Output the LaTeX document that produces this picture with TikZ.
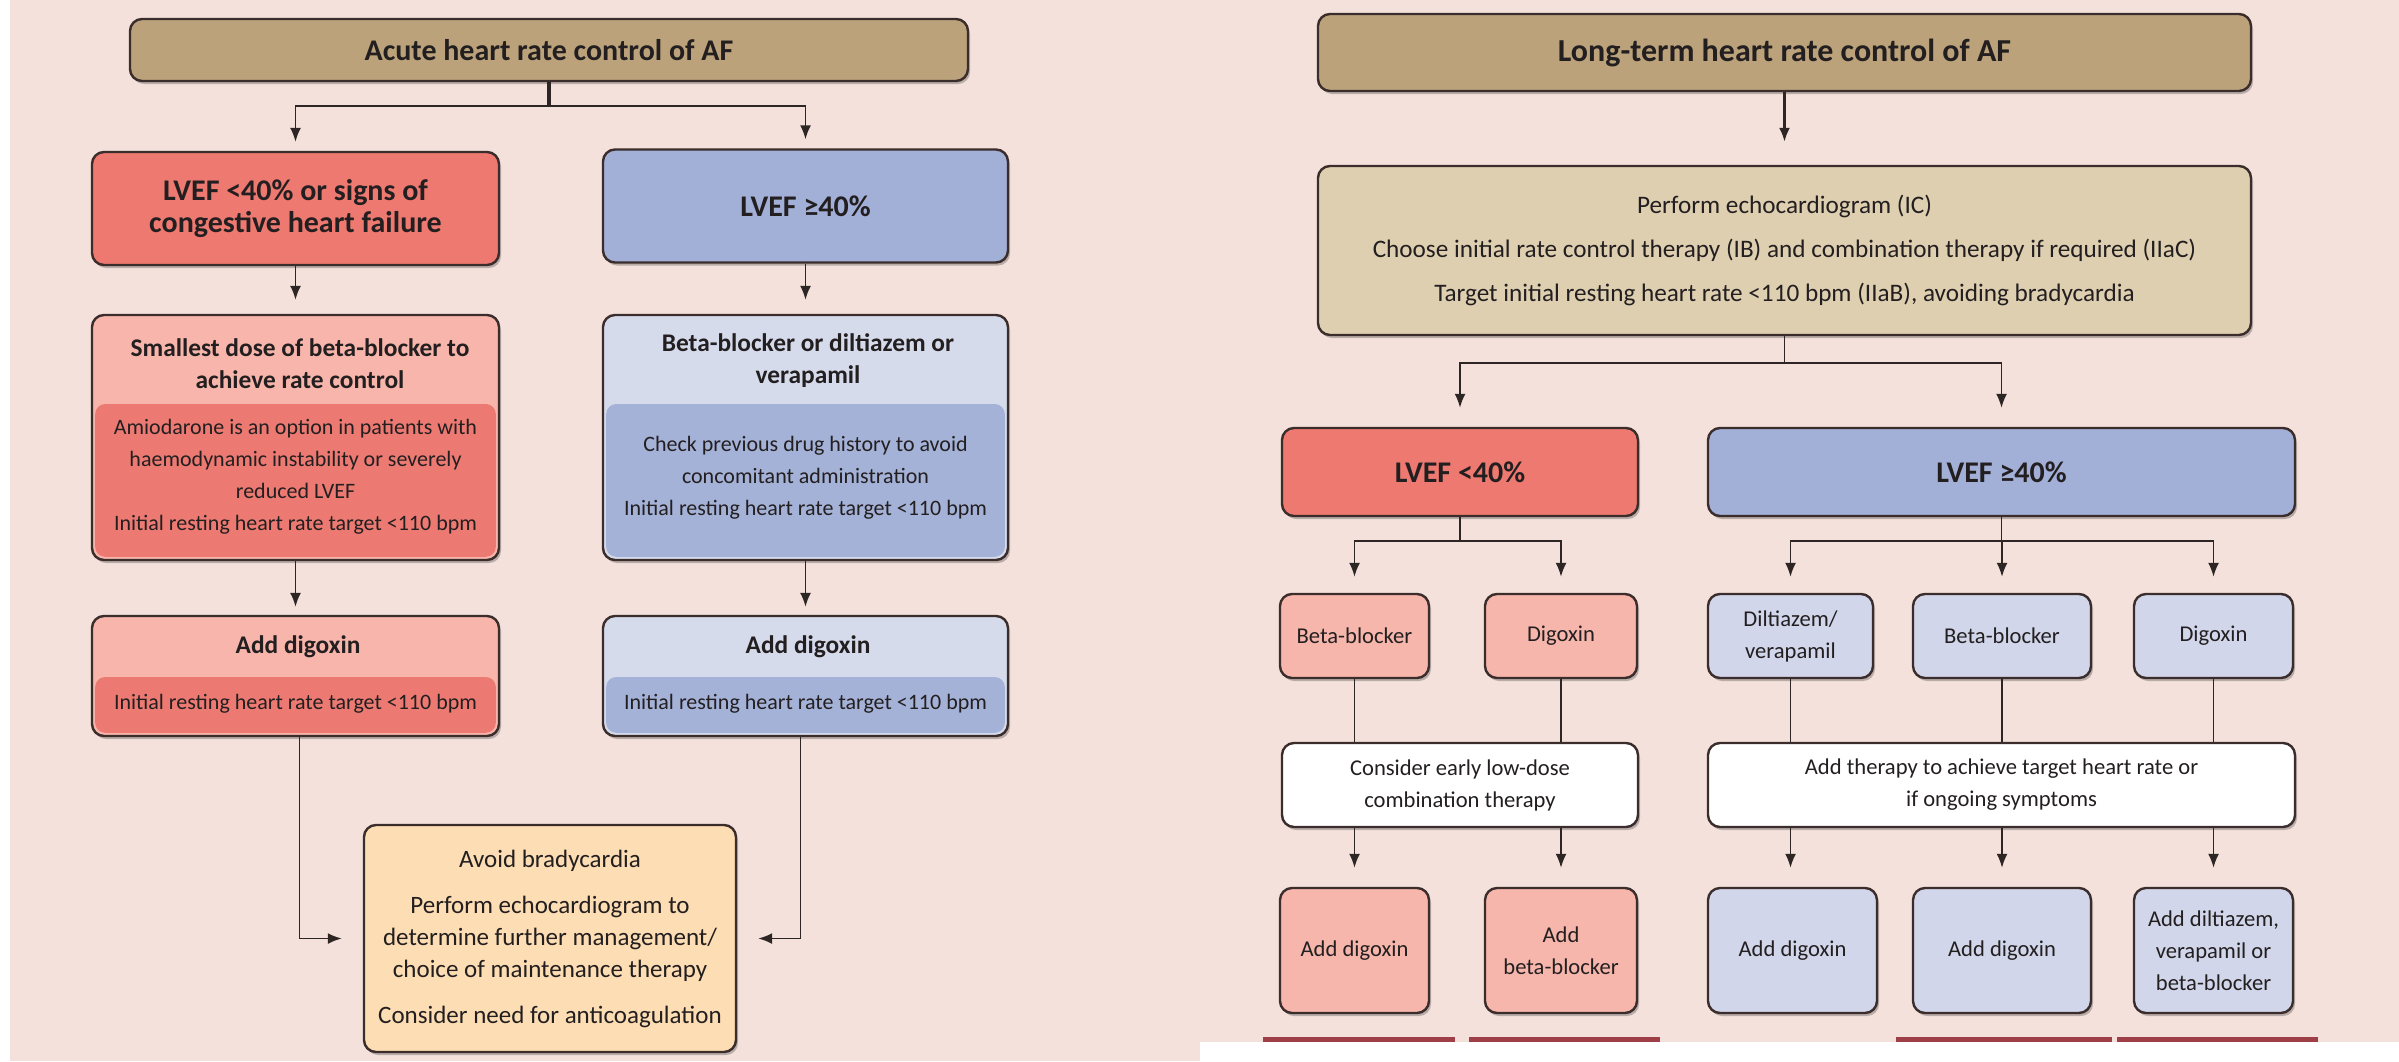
\documentclass[tikz,border=0pt]{standalone}
\usepackage{fontspec}
\setmainfont{Carlito}
\usetikzlibrary{arrows.meta,shadows,calc}
\definecolor{bgc}{HTML}{F4E1DC}
\definecolor{tanc}{HTML}{BBA27A}
\definecolor{tanlc}{HTML}{DFCFB1}
\definecolor{redc}{HTML}{EE7970}
\definecolor{redlc}{HTML}{F7B5AB}
\definecolor{redmc}{HTML}{EC7A72}
\definecolor{bluec}{HTML}{A2AFD7}
\definecolor{bluelc}{HTML}{D6DBEC}
\definecolor{bluemc}{HTML}{A5B2D8}
\definecolor{salc}{HTML}{F6B6AB}
\definecolor{lavc}{HTML}{D1D6EA}
\definecolor{peachc}{HTML}{FDDDB3}
\definecolor{bordc}{HTML}{3B2D2B}
\definecolor{linec}{HTML}{2E2624}
\definecolor{textc}{HTML}{231F20}
\definecolor{stripc}{HTML}{9E3F47}
\newcommand{\fTitleL}{\bfseries\fontsize{15}{18}\selectfont}
\newcommand{\fTitleR}{\bfseries\fontsize{16}{18}\selectfont}
\newcommand{\fBigB}{\bfseries\fontsize{15}{16}\selectfont}
\newcommand{\fMedB}{\bfseries\fontsize{12.7}{16}\selectfont}
\newcommand{\fReg}{\fontsize{11}{16}\selectfont}
\newcommand{\fEcho}{\fontsize{12.6}{22}\selectfont}
\newcommand{\fSmall}{\fontsize{11.3}{16}\selectfont}
\newcommand{\fYel}{\fontsize{12.5}{16}\selectfont}
\tikzset{
  myshadow/.style={drop shadow={shadow xshift=1pt,shadow yshift=-1.5pt,opacity=0.3,fill=black!80}},
  box/.style={draw=bordc,line width=1.2pt,rounded corners=6pt,inner sep=0pt,align=center,text=textc,myshadow},
  twotone/.style 2 args={path picture={\fill[#1,rounded corners=5pt]
      ([xshift=1.6pt,yshift=1.6pt]path picture bounding box.south west) rectangle
      ([xshift=-1.6pt,yshift=#2]path picture bounding box.south east);}},
  txt/.style={align=center,text=textc,inner sep=0pt},
  conn/.style={draw=linec,line width=0.9pt},
  arr/.style={draw=linec,line width=0.9pt,-{Latex[length=7pt,width=5.5pt]}},
}
\begin{document}
\begin{tikzpicture}[x=0.5pt,y=-0.5pt]
\useasboundingbox (0,0) rectangle (2399,1061);
\fill[bgc] (0,0) rectangle (2399,1061);
\fill[white] (0,0) rectangle (10,1061);
\fill[white] (1200,1042) rectangle (2399,1061);
\fill[stripc] (1263,1037) rectangle (1455,1042);
\fill[stripc] (1469,1037) rectangle (1660,1042);
\fill[stripc] (1896,1037) rectangle (2112,1042);
\fill[stripc] (2117,1037) rectangle (2318,1042);

% ---------------- left panel ----------------
\node[box,fill=tanc,minimum width=419pt,minimum height=31pt,font=\fTitleL] (t1) at (549,50) {Acute heart rate control of AF};
\node[box,fill=redc,minimum width=203.5pt,minimum height=56.5pt,font=\fBigB] (r1) at (295.5,208.5) {LVEF <40\% or signs of\\congestive heart failure};
\node[box,fill=bluec,minimum width=202.5pt,minimum height=56.5pt,font=\fBigB] (b1) at (805.5,206) {LVEF ≥40\%};

\node[box,fill=redlc,twotone={redmc}{78pt},minimum width=203.5pt,minimum height=122.5pt] (r2) at (295.5,437.5) {};
\node[txt,font=\fMedB] (r2a) at (300,364) {Smallest dose of beta-blocker to\\achieve rate control};
\node[txt,font=\fReg] (r2b) at (295.5,477) {Amiodarone is an option in patients with\\haemodynamic instability or severely\\reduced LVEF\\Initial resting heart rate target <110 bpm};

\node[box,fill=bluelc,twotone={bluemc}{78pt},minimum width=202.5pt,minimum height=122.5pt] (b2) at (805.5,437.5) {};
\node[txt,font=\fMedB] (b2a) at (808,361) {Beta-blocker or diltiazem or\\verapamil};
\node[txt,font=\fReg] (b2b) at (805.5,478) {Check previous drug history to avoid\\concomitant administration\\Initial resting heart rate target <110 bpm};

\node[box,fill=redlc,twotone={redmc}{29.5pt},minimum width=203.5pt,minimum height=60pt] (r3) at (295.5,676) {};
\node[txt,font=\fMedB] (r3a) at (298,647) {Add digoxin};
\node[txt,font=\fReg] (r3b) at (295.5,704) {Initial resting heart rate target <110 bpm};

\node[box,fill=bluelc,twotone={bluemc}{29.5pt},minimum width=202.5pt,minimum height=60pt] (b3) at (805.5,676) {};
\node[txt,font=\fMedB] (b3a) at (808,647) {Add digoxin};
\node[txt,font=\fReg] (b3b) at (805.5,704) {Initial resting heart rate target <110 bpm};

\node[box,fill=peachc,minimum width=186pt,minimum height=113.5pt,font=\fYel] (y1) at (550,938.5)
  {Avoid bradycardia\\[7pt]Perform echocardiogram to\\determine further management/\\choice of maintenance therapy\\[7pt]Consider need for anticoagulation};

\draw[conn,line width=1.6pt] (t1.south) -- ++(0,24) coordinate (t1j);
\draw[arr,shorten >=4.5pt] (t1j) -| (r1.north);
\draw[arr,shorten >=4.5pt] (t1j) -| (b1.north);
\draw[arr,shorten >=7pt] (r1.south) -- (r2.north);
\draw[arr,shorten >=7pt] (b1.south) -- (b2.north);
\draw[arr,shorten >=4pt] (r2.south) -- (r3.north);
\draw[arr,shorten >=4pt] (b2.south) -- (b3.north);
\draw[arr,shorten >=10.5pt] ([xshift=2pt]r3.south) |- (y1.west);
\draw[arr,shorten >=10.5pt] ([xshift=-2.5pt]b3.south) |- (y1.east);

% ---------------- right panel ----------------
\node[box,fill=tanc,minimum width=466.5pt,minimum height=38.5pt,font=\fTitleR] (t2) at (1784.5,52.5) {Long-term heart rate control of AF};
\node[box,fill=tanlc,minimum width=466.5pt,minimum height=84.5pt,font=\fEcho] (e2) at (1784.5,250.5)
  {Perform echocardiogram (IC)\\Choose initial rate control therapy (IB) and combination therapy if required (IIaC)\\Target initial resting heart rate <110 bpm (IIaB), avoiding bradycardia};
\node[box,fill=redc,minimum width=178pt,minimum height=44pt,font=\fBigB] (rl) at (1460,472) {LVEF <40\%};
\node[box,fill=bluec,minimum width=293.5pt,minimum height=44pt,font=\fBigB] (bl) at (2001.5,472) {LVEF ≥40\%};

\node[box,fill=salc,minimum width=74.5pt,minimum height=42pt,font=\fSmall] (rbb) at (1354.5,636) {Beta-blocker};
\node[box,fill=salc,minimum width=76pt,minimum height=42pt,font=\fSmall] (rdg) at (1561,636) {Digoxin};
\node[box,fill=lavc,minimum width=82.5pt,minimum height=42pt,font=\fSmall] (bdv) at (1790.5,636) {Diltiazem/\\verapamil};
\node[box,fill=lavc,minimum width=89pt,minimum height=42pt,font=\fSmall] (bbb) at (2002,636) {Beta-blocker};
\node[box,fill=lavc,minimum width=79.5pt,minimum height=42pt,font=\fSmall] (bdg) at (2213.5,636) {Digoxin};

\node[box,fill=white,minimum width=178pt,minimum height=42pt,font=\fSmall] (wl) at (1460,785) {Consider early low-dose\\combination therapy};
\node[box,fill=white,minimum width=293.5pt,minimum height=42pt,font=\fSmall] (wr) at (2001.5,785) {Add therapy to achieve target heart rate or\\if ongoing symptoms};

\node[box,fill=salc,minimum width=74.5pt,minimum height=62.5pt,font=\fSmall] (rad) at (1354.5,950.5) {Add digoxin};
\node[box,fill=salc,minimum width=76pt,minimum height=62.5pt,font=\fSmall] (rab) at (1561,950.5) {Add\\beta-blocker};
\node[box,fill=lavc,minimum width=84.5pt,minimum height=62.5pt,font=\fSmall] (bada) at (1792.5,950.5) {Add digoxin};
\node[box,fill=lavc,minimum width=89pt,minimum height=62.5pt,font=\fSmall] (badb) at (2002,950.5) {Add digoxin};
\node[box,fill=lavc,minimum width=79.5pt,minimum height=62.5pt,font=\fSmall] (badc) at (2213.5,950.5) {Add diltiazem,\\verapamil or\\beta-blocker};

\draw[arr,line width=1.3pt,shorten >=11.5pt] (t2.south) -- (e2.north);
\draw[conn] (e2.south) -- ++(0,27) coordinate (e2j);
\draw[arr,shorten >=9.5pt] (e2j) -| (rl.north);
\draw[arr,shorten >=9.5pt] (e2j) -| (bl.north);
\draw[conn] (rl.south) -- ++(0,24) coordinate (rlj);
\draw[arr,shorten >=8pt] (rlj) -| (rbb.north);
\draw[arr,shorten >=8pt] (rlj) -| (rdg.north);
\draw[conn] (bl.south) -- ++(0,24) coordinate (blj);
\draw[arr,shorten >=8pt] (blj) -| (bdv.north);
\draw[arr,shorten >=8pt] (blj) -| (bbb.north);
\draw[arr,shorten >=8pt] (blj) -| (bdg.north);

\draw[conn] (rbb.south) -- (rbb.south |- wl.north);
\draw[conn] (rdg.south) -- (rdg.south |- wl.north);
\draw[conn] (bdv.south) -- (bdv.south |- wr.north);
\draw[conn] (bbb.south) -- (bbb.south |- wr.north);
\draw[conn] (bdg.south) -- (bdg.south |- wr.north);

\draw[arr,shorten >=9.5pt] (wl.south -| rad.north) -- (rad.north);
\draw[arr,shorten >=9.5pt] (wl.south -| rab.north) -- (rab.north);
\draw[arr,shorten >=9.5pt] (wr.south -| bdv.south) -- (bdv.south |- bada.north);
\draw[arr,shorten >=9.5pt] (wr.south -| badb.north) -- (badb.north);
\draw[arr,shorten >=9.5pt] (wr.south -| badc.north) -- (badc.north);
\end{tikzpicture}
\end{document}
